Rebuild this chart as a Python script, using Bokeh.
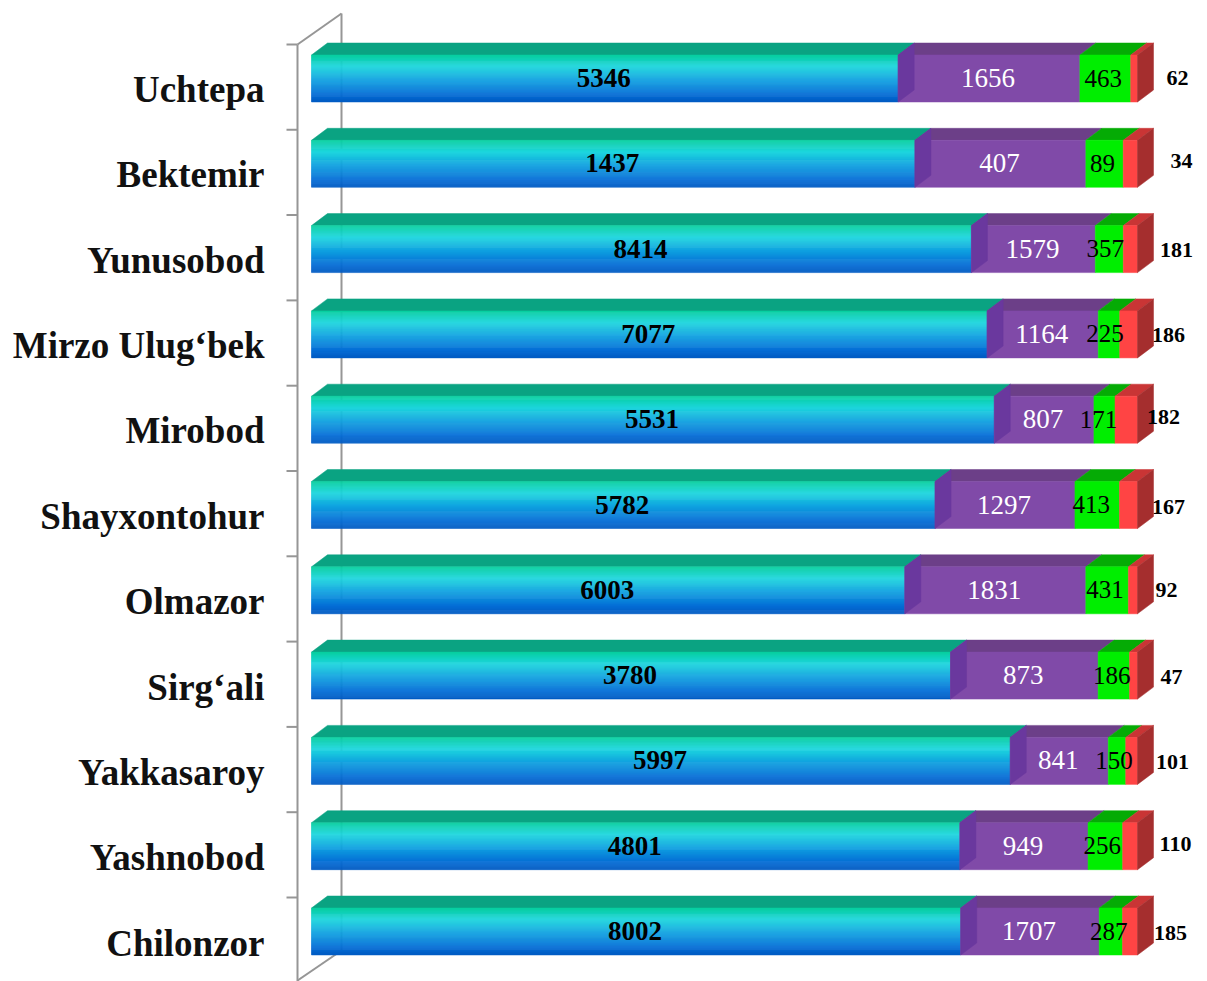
from bokeh.plotting import figure
from bokeh.models import Range1d
from bokeh.core.properties import value
from bokeh.embed import file_html
from bokeh.resources import INLINE

districts = ["Chilonzor", "Yashnobod", "Yakkasaroy", "Sirg‘ali", "Olmazor", "Shayxontohur",
             "Mirobod", "Mirzo Ulug‘bek", "Yunusobod", "Bektemir", "Uchtepa"]
series_a = [8002, 4801, 5997, 3780, 6003, 5782, 5531, 7077, 8414, 1437, 5346]
series_b = [1707, 949, 841, 873, 1831, 1297, 807, 1164, 1579, 407, 1656]
series_c = [287, 256, 150, 186, 431, 413, 171, 225, 357, 89, 463]
series_d = [185, 110, 101, 47, 92, 167, 182, 186, 181, 34, 62]

# --- layout ---
W, H = 1207, 981
X0, X100 = 311, 1137      # picture px of 0 % / 100 %
Y_ROW0, ROW = 931, 85.3   # picture px of the first row, px per row
PX = (X100 - X0) / 100
sx = lambda px: (px - X0) / PX
sy = lambda py: (Y_ROW0 - py) / ROW
DX, DY = 16 / PX, 12 / ROW
HALF = 23.5 / ROW

p = figure(width=W, height=H, output_backend="svg", toolbar_location=None, min_border=0,
           x_range=Range1d(sx(0), sx(W)), y_range=Range1d(sy(H), sy(0)),
           outline_line_color=None)
p.axis.visible = False
p.grid.visible = False
p.background_fill_color = "white"

# axis walls
WALL = "#969696"
p.segment(sx(341), sy(13), sx(341), sy(950), line_color=WALL, line_width=2)
p.segment(sx(297), sy(44), sx(297), sy(981), line_color=WALL, line_width=2)
p.segment(sx(297), sy(44), sx(341), sy(13), line_color=WALL, line_width=2)
p.segment(sx(297), sy(980), sx(341), sy(950), line_color=WALL, line_width=2)
ticks = [sy(44) - i for i in range(11)]
p.segment([sx(286)] * 11, ticks, [sx(297)] * 11, ticks, line_color=WALL, line_width=2)

STOPS = [(0.0, (8, 207, 160)), (0.25, (30, 214, 222)), (0.55, (16, 160, 224)),
         (0.85, (6, 110, 214)), (1.0, (2, 92, 196))]
BANDS = 48

def grad(t):
    for (t0, c0), (t1, c1) in zip(STOPS, STOPS[1:]):
        if t <= t1:
            f = (t - t0) / (t1 - t0)
            return "#%02x%02x%02x" % tuple(round(a + (b - a) * f) for a, b in zip(c0, c1))
    return "#025cc4"

GRAD = [grad(j / (BANDS - 1)) for j in range(BANDS)]
STYLE = [
    (None, "#0aa382", None),
    ("#804aa8", "#6c3f88", "#6a389e"),
    ("#00ee00", "#05ab05", None),
    ("#ff4444", "#c93535", None),
]
CAP = "#a52e2e"

n = len(districts)
xs_top, ys_top, c_top = [], [], []
xs_side, ys_side, c_side = [], [], []
front = []
label_rows = []
for i in range(n):
    vals = [series_a[i], series_b[i], series_c[i], series_d[i]]
    tot = sum(vals)
    edges = [0]
    for v in vals:
        edges.append(edges[-1] + v / tot * 100)
    ytop, ybot = i + HALF, i - HALF
    for k in range(4):
        a, b = edges[k], edges[k + 1]
        xs_top.append([a, b, b + DX, a + DX])
        ys_top.append([ytop, ytop, ytop + DY, ytop + DY])
        c_top.append(STYLE[k][1])
        if k > 0:
            front.append((a, b, ybot, ytop, STYLE[k][0]))
        else:
            h = (ytop - ybot) / BANDS
            for j, col in enumerate(GRAD):
                front.append((a, b, ytop - (j + 1) * h, ytop - j * h, col))
        if STYLE[k][2]:
            xs_side.append([a, a + DX, a + DX, a])
            ys_side.append([ybot, ybot + DY, ytop + DY, ytop])
            c_side.append(STYLE[k][2])
    xs_side.append([100, 100 + DX, 100 + DX, 100])
    ys_side.append([ybot, ybot + DY, ytop + DY, ytop])
    c_side.append(CAP)
    label_rows.append(edges)

p.patches(xs_top, ys_top, fill_color=c_top, line_color=c_top, line_width=0.5)
p.quad(left=[f[0] for f in front], right=[f[1] for f in front], bottom=[f[2] for f in front],
       top=[f[3] for f in front], fill_color=[f[4] for f in front], line_color=[f[4] for f in front],
       line_width=0.5)
p.patches(xs_side, ys_side, fill_color=c_side, line_color=c_side, line_width=0.5)

# texts
LBL_Y = [943, 857, 772, 687, 601, 516, 430, 345, 260, 174, 89]
OUT_X = [1170, 1175, 1172, 1171, 1166, 1168, 1163, 1168, 1176, 1181, 1177]
OUT_Y = [932, 843, 761, 676, 589, 506, 416, 334, 249, 160, 77]
GREEN_DX = [-2, -3, -3, -2, -2, -6, -6, -4, -4, -2, -2]
SERIF = value("Liberation Serif")

p.text(x=[sx(264)] * n, y=[sy(v) for v in LBL_Y], text=districts, text_font=SERIF, text_font_style="bold",
       text_font_size="37px", text_align="right", text_baseline="middle", text_color="#111111")

for k, (vals, color, size, bold) in enumerate([(series_a, "#000000", "27px", "bold"),
                                               (series_b, "#ffffff", "27px", "normal"),
                                               (series_c, "#000000", "25px", "normal")]):
    xs = [(e[k] + e[k + 1]) / 2 + ((GREEN_DX[i] if k == 2 else -1) / PX) for i, e in enumerate(label_rows)]
    ys = [i + 0.5 / ROW for i in range(n)]
    p.text(x=xs, y=ys, text=[str(v) for v in vals], text_font=SERIF, text_font_style=bold,
           text_font_size=size, text_align="center", text_baseline="middle", text_color=color)

p.text(x=[sx(v) for v in OUT_X], y=[sy(v) for v in OUT_Y], text=[str(v) for v in series_d],
       text_font=SERIF, text_font_style="bold", text_font_size="22px", text_align="center",
       text_baseline="middle", text_color="#000000")

open("out.html", "w").write(file_html(p, INLINE))
